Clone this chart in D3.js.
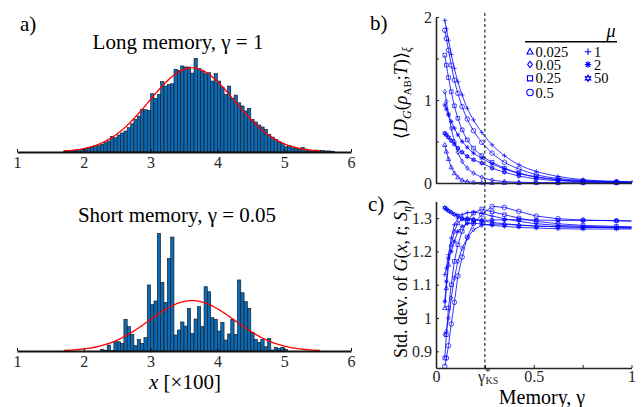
<!DOCTYPE html>
<html><head><meta charset="utf-8">
<script src="https://cdn.jsdelivr.net/npm/d3@7"></script>
<style>body{margin:0;background:#fff} svg{display:block} text{font-family:"Liberation Serif","Times New Roman",serif}</style>
</head><body>
<svg id="c" width="641" height="407"></svg>
<script>
// ---------- DATA ----------
// Panel a: histograms (density), bin width 0.05 (x in units of 100)
const binWidth = 0.05;
const longStart = 1.70;
const longDensity = [0.007,0.009,0.009,0.013,0.015,0.018,0.020,0.025,0.033,0.042,0.042,0.051,0.062,0.073,0.104,0.095,0.113,0.126,0.139,0.161,0.187,0.217,0.238,0.283,0.280,0.276,0.386,0.356,0.382,0.466,0.437,0.448,0.452,0.548,0.541,0.570,0.563,0.563,0.523,0.621,0.554,0.536,0.519,0.525,0.470,0.519,0.470,0.430,0.382,0.437,0.356,0.377,0.326,0.305,0.272,0.289,0.217,0.199,0.179,0.166,0.150,0.117,0.099,0.084,0.068,0.058,0.035,0.044,0.028,0.025,0.020,0.031,0.020,0.013,0.011,0.013,0.009,0.011,0.007,0.007,0.005];
const shortStart = 2.25;
const shortDensity = [0.016,0.009,0.065,0.005,0.100,0.100,0.083,0.343,0.263,0.181,0.057,0.126,0.083,0.144,0.714,0.505,0.541,1.272,0.743,0.526,1.002,1.232,0.173,0.227,0.314,0.270,0.462,0.191,0.346,0.479,0.263,0.695,0.641,0.360,0.343,0.216,0.310,0.119,0.184,0.343,0.181,0.768,0.630,0.533,0.462,0.202,0.126,0.094,0.126,0.046,0.137,0.011,0.040,0.029,0.040,0.016];
const fitMean = 3.62, fitSd = 0.64;
const histTicks = [1,2,3,4,5,6];

// Panels b, c
const gammas = [0.045,0.053,0.064,0.078,0.094,0.112,0.134,0.16,0.192,0.234,0.287,0.35,0.424,0.513,0.624,0.752,0.923,1.0];
const muLabels = ["0.025","0.05","0.25","0.5","1","2","50"];
const muMarkers = ["tri","diamond","square","circle","plus","aster","hexa"];
const discord = {
  "0.025":[0.46,0.38,0.29,0.19,0.12,0.07,0.035,0.017,0.008,0.004,0.002,0.001,0,0,0,0,0,0],
  "0.05": [1.10,0.98,0.83,0.66,0.50,0.37,0.26,0.18,0.12,0.07,0.035,0.018,0.009,0.005,0.003,0.002,0.001,0.001],
  "0.25": [1.54,1.42,1.27,1.10,0.93,0.78,0.64,0.52,0.42,0.33,0.25,0.18,0.12,0.075,0.04,0.02,0.01,0.008],
  "0.5":  [1.84,1.74,1.60,1.42,1.24,1.08,0.92,0.77,0.63,0.49,0.36,0.25,0.17,0.10,0.055,0.03,0.015,0.01],
  "1":    [1.96,1.86,1.72,1.55,1.38,1.22,1.06,0.90,0.76,0.61,0.46,0.33,0.22,0.14,0.08,0.04,0.02,0.015],
  "2":    [0.94,0.89,0.82,0.74,0.66,0.58,0.50,0.43,0.36,0.30,0.23,0.17,0.115,0.07,0.04,0.02,0.01,0.008],
  "50":   [0.60,0.58,0.55,0.51,0.47,0.42,0.37,0.32,0.28,0.24,0.18,0.13,0.085,0.05,0.028,0.015,0.008,0.006]
};
const stdG = {
  "0.025":[1.03,1.09,1.16,1.22,1.26,1.285,1.297,1.30,1.297,1.292,1.287,1.283,1.279,1.276,1.274,1.272,1.271,1.27],
  "0.05": [0.95,0.96,1.00,1.06,1.12,1.17,1.21,1.24,1.265,1.278,1.282,1.281,1.279,1.276,1.274,1.272,1.271,1.27],
  "0.25": [0.88,0.95,1.03,1.10,1.17,1.22,1.26,1.29,1.315,1.327,1.319,1.31,1.30,1.29,1.283,1.278,1.275,1.274],
  "0.5":  [0.855,0.88,0.917,0.982,1.047,1.126,1.183,1.243,1.284,1.31,1.335,1.332,1.32,1.306,1.298,1.294,1.292,1.291],
  "1":    [1.13,1.15,1.19,1.24,1.28,1.30,1.31,1.316,1.318,1.314,1.306,1.298,1.29,1.283,1.278,1.275,1.273,1.272],
  "2":    [1.05,1.11,1.18,1.20,1.23,1.26,1.275,1.283,1.285,1.282,1.278,1.275,1.272,1.27,1.268,1.267,1.267,1.267],
  "50":   [1.331,1.327,1.322,1.317,1.311,1.307,1.299,1.296,1.294,1.293,1.294,1.295,1.295,1.294,1.293,1.293,1.292,1.291]
};
const gammaKS = 0.25;
const bYTicks = [0,0.5,1,1.5,2];
const cYTicks = [0.9,1,1.1,1.2,1.3];
const xTicksBC = [0,0.25,0.5,0.75,1];

// ---------- DRAW ----------
const svg = d3.select("#c");
const AX = "#262626", BLUE = "#0000ff";

// panel a
const xA = d3.scaleLinear().domain([1,6]).range([17,351]);
const yLong = d3.scaleLinear().domain([0,0.62]).range([152,58.4]);
const yShort = d3.scaleLinear().domain([0,1.3]).range([351,230.75]);
const pdf = x => Math.exp(-0.5*((x-fitMean)/fitSd)**2)/(fitSd*Math.sqrt(2*Math.PI));

function drawHist(data, start, y) {
  const g = svg.append("g");
  const w = xA(start+binWidth)-xA(start);
  const area = d3.sum(data)*binWidth;   // fit scaled to histogram area
  g.selectAll("rect").data(data).join("rect")
    .attr("x",(d,i)=>xA(start+i*binWidth)).attr("width",w)
    .attr("y",d=>y(d)).attr("height",d=>y(0)-y(d))
    .attr("fill","#0a6ab5").attr("stroke","#151515").attr("stroke-width",0.6);
  const xs = d3.range(170,556,2).map(v=>v/100);
  g.append("path").attr("d",d3.line().x(d=>xA(d)).y(d=>y(area*pdf(d)))(xs))
    .attr("fill","none").attr("stroke","#ff0000").attr("stroke-width",1.3);
  const ax = svg.append("g").attr("transform",`translate(0,${y(0)})`)
    .call(d3.axisBottom(xA).tickValues(histTicks).tickFormat(d3.format("d")).tickSizeInner(-3).tickSizeOuter(0).tickPadding(5));
  ax.select(".domain").attr("stroke","#111").attr("stroke-width",1.8);
  ax.selectAll(".tick line").attr("stroke","#111");
  ax.selectAll("text").attr("font-size",16).attr("fill",AX).attr("font-family","Liberation Serif");
}
drawHist(longDensity,longStart,yLong);
drawHist(shortDensity,shortStart,yShort);

svg.append("text").attr("x",20).attr("y",31).attr("font-size",21).text("a)");
svg.append("text").attr("x",178).attr("y",49).attr("text-anchor","middle").attr("font-size",21).text("Long memory, γ = 1");
svg.append("text").attr("x",177).attr("y",222).attr("text-anchor","middle").attr("font-size",21).text("Short memory, γ = 0.05");
const xl = svg.append("text").attr("x",185).attr("y",389).attr("text-anchor","middle").attr("font-size",21);
xl.append("tspan").attr("font-style","italic").text("x");
xl.append("tspan").text(" [×100]");

// panels b and c
const xB = d3.scaleLinear().domain([0,1]).range([436,631.5]);
const yB = d3.scaleLinear().domain([0,2]).range([183,17]);
const yC = d3.scaleLinear().domain([0.85,1.35]).range([368,201.4]);

function markerPath(t,r){
  switch(t){
    case "tri": return `M0,${-r}L${0.95*r},${0.7*r}L${-0.95*r},${0.7*r}Z`;
    case "diamond": return `M0,${-r}L${0.75*r},0L0,${r}L${-0.75*r},0Z`;
    case "square": {const s=0.8*r; return `M${-s},${-s}H${s}V${s}H${-s}Z`;}
    case "circle": return `M${r},0A${r},${r} 0 1 1 ${-r},0A${r},${r} 0 1 1 ${r},0`;
    case "plus": return `M${-r},0H${r}M0,${-r}V${r}`;
    case "aster": {const a=0.7*r; return `M${-r},0H${r}M0,${-r}V${r}M${-a},${-a}L${a},${a}M${-a},${a}L${a},${-a}`;}
    case "hexa": return `M0,${-r}L${0.866*r},${0.5*r}L${-0.866*r},${0.5*r}ZM0,${r}L${0.866*r},${-0.5*r}L${-0.866*r},${-0.5*r}Z`;
  }
}

function drawSeries(table, y, curve){
  const g = svg.append("g");
  muLabels.forEach((mu,k)=>{
    const vals = table[mu];
    const pts = gammas.map((gm,i)=>[gm,vals[i]]);
    g.append("path").attr("d",d3.line().x(d=>xB(d[0])).y(d=>y(d[1])).curve(curve)(pts))
      .attr("fill","none").attr("stroke",BLUE).attr("stroke-width",0.8);
    g.selectAll(null).data(pts.slice(0,-1)).join("path")
      .attr("transform",d=>`translate(${xB(d[0])},${y(d[1])})`)
      .attr("d",markerPath(muMarkers[k],2.3))
      .attr("fill","none").attr("stroke",BLUE).attr("stroke-width",0.7);
  });
}
drawSeries(discord,yB,d3.curveMonotoneX);
drawSeries(stdG,yC,d3.curveLinear);

function styleAxis(a){
  a.select(".domain").attr("stroke",AX).attr("stroke-width",1.6);
  a.selectAll(".tick line").attr("stroke",AX);
  a.selectAll("text").attr("font-size",16).attr("fill",AX).attr("font-family","Liberation Serif");
}
// b axes
styleAxis(svg.append("g").attr("transform",`translate(${xB(0)},0)`)
  .call(d3.axisLeft(yB).tickValues(bYTicks).tickFormat(d=>d%1===0?d:"").tickSizeInner(-3).tickSizeOuter(0).tickPadding(4)));
styleAxis(svg.append("g").attr("transform",`translate(0,${yB(0)})`)
  .call(d3.axisBottom(xB).tickValues(xTicksBC).tickFormat("").tickSizeInner(-3).tickSizeOuter(0)));
// c axes
styleAxis(svg.append("g").attr("transform",`translate(${xB(0)},0)`)
  .call(d3.axisLeft(yC).tickValues(cYTicks).tickFormat(d=>String(d)).tickSizeInner(-3).tickSizeOuter(0).tickPadding(4)));
const cx = svg.append("g").attr("transform",`translate(0,${yC(0.85)})`)
  .call(d3.axisBottom(xB).tickValues(xTicksBC).tickFormat(d=>d===0?"0":d===0.5?"0.5":d===1?"1":"").tickSizeInner(-3).tickSizeOuter(0).tickPadding(3));
styleAxis(cx);
// gamma*_KS tick label
const gk = svg.append("text").attr("x",xB(gammaKS)-7).attr("y",382).attr("font-size",16).attr("fill",AX);
gk.append("tspan").text("γ");
gk.append("tspan").attr("font-size",11).attr("dy",-7).text("*");
gk.append("tspan").attr("font-size",10).attr("dx",-5).attr("dy",9).text("KS");

// dashed line
svg.append("line").attr("x1",xB(gammaKS)).attr("x2",xB(gammaKS)).attr("y1",13).attr("y2",yC(0.85))
  .attr("stroke","#000").attr("stroke-width",1).attr("stroke-dasharray","3,2.5");

// panel labels
svg.append("text").attr("x",370).attr("y",30).attr("font-size",21).text("b)");
svg.append("text").attr("x",368).attr("y",211).attr("font-size",21).text("c)");

// y label b
const lb = svg.append("text").attr("transform","translate(407,93) rotate(-90)").attr("text-anchor","middle").attr("font-size",18);
lb.append("tspan").text("⟨");
lb.append("tspan").attr("font-style","italic").text("D");
lb.append("tspan").attr("font-style","italic").attr("font-size",12).attr("dy",4).text("G");
lb.append("tspan").attr("dy",-4).text("(");
lb.append("tspan").attr("font-style","italic").text("ρ");
lb.append("tspan").attr("font-size",11).attr("dy",4).text("AB");
lb.append("tspan").attr("dy",-4).text(";");
lb.append("tspan").attr("font-style","italic").text("T");
lb.append("tspan").text(")⟩");
lb.append("tspan").attr("font-style","italic").attr("font-size",12).attr("dy",4).text("ξ");

// y label c
const lc = svg.append("text").attr("transform","translate(407,279) rotate(-90)").attr("text-anchor","middle").attr("font-size",18);
lc.append("tspan").text("Std. dev. of ");
lc.append("tspan").attr("font-style","italic").text("G");
lc.append("tspan").text("(");
lc.append("tspan").attr("font-style","italic").text("x");
lc.append("tspan").text(", ");
lc.append("tspan").attr("font-style","italic").text("t");
lc.append("tspan").text("; ");
lc.append("tspan").attr("font-style","italic").text("S");
lc.append("tspan").attr("font-style","italic").attr("font-size",12).attr("dy",4).text("η");
lc.append("tspan").attr("dy",-4).text(")");

// x label c
const mx = svg.append("text").attr("x",542).attr("y",404).attr("text-anchor","middle").attr("font-size",20);
mx.append("tspan").text("Memory, ");
mx.append("tspan").text("γ");

// legend
const lg = svg.append("g");
lg.append("line").attr("x1",525).attr("x2",617).attr("y1",41.7).attr("y2",41.7).attr("stroke","#000").attr("stroke-width",1.6);
lg.append("text").attr("x",611).attr("y",37).attr("text-anchor","middle").attr("font-size",18).attr("font-style","italic").text("μ");
const rowsY = [51.7,64.5,78.3,92.5];
muLabels.forEach((mu,k)=>{
  const col = k<4?0:1, row = k<4?k:k-4;
  const mxp = col===0?530:588, tx = col===0?535.5:594;
  lg.append("path").attr("transform",`translate(${mxp},${rowsY[row]})`).attr("d",markerPath(muMarkers[k],3.2))
    .attr("fill","none").attr("stroke",BLUE).attr("stroke-width",1.1);
  lg.append("text").attr("x",tx).attr("y",rowsY[row]+5).attr("font-size",14.5).text(mu);
});
</script>
</body></html>
